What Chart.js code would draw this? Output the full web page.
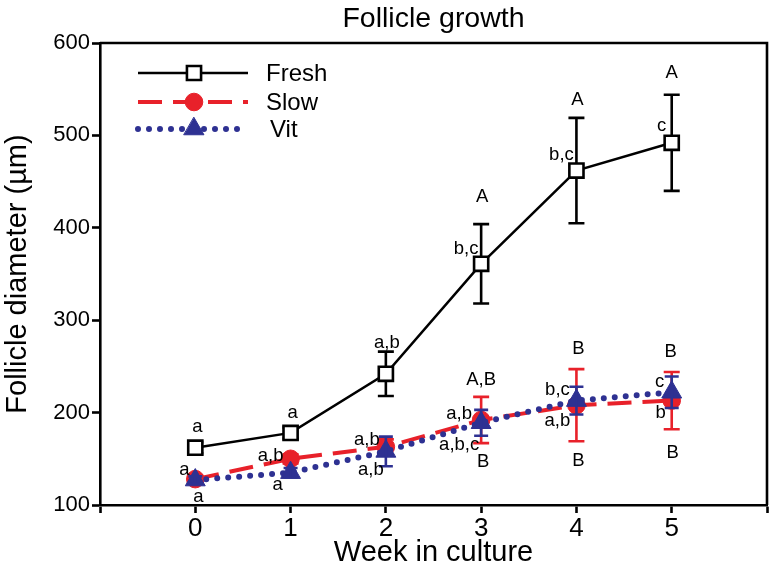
<!DOCTYPE html>
<html><head><meta charset="utf-8">
<script src="https://cdn.jsdelivr.net/npm/chart.js@4"></script>
<style>html,body{margin:0;padding:0;background:#fff}#wrap{width:771px;height:572px;position:relative}</style>
</head><body><div id="wrap"><canvas id="c"></canvas></div>
<script>
// ---- data ----
const weeks = [0, 1, 2, 3, 4, 5];
const xTickLabels = ['0', '1', '2', '3', '4', '5'];
const yTicks = [100, 200, 300, 400, 500, 600];
const seriesNames = ['Fresh', 'Slow', 'Vit'];
const freshMean = [162, 178, 242, 361, 462, 492];
const freshErr = [6, 6, 24, 43, 57, 52];
const slowMean = [128, 150, 163, 192, 208, 213];
const slowErr = [4, 5, 8, 25, 39, 31];
const vitMean = [127, 135, 158, 189, 213, 222];
const vitErr = [4, 5, 16, 14, 15, 17];
const freshLetters = ['a', 'a', 'a,b', 'b,c', 'b,c', 'c'];
const freshGroups = ['', '', '', 'A', 'A', 'A'];
const slowLetters = ['a', 'a,b', 'a,b', 'a,b', 'a,b', 'b'];
const slowGroups = ['', '', '', 'A,B', 'B', 'B'];
const vitLetters = ['a', 'a', 'a,b', 'a,b,c', 'b,c', 'c'];
const vitGroups = ['', '', '', 'B', 'B', 'B'];

// ---- styles / layout ----
const FONT = "'Liberation Sans', Arial, Helvetica, sans-serif";
const RED = '#e8212a';
const BLUE = '#2e3192';
const labelOffsets = {
  freshLetters: [[2,-21],[2,-20],[1,-31],[-15,-15],[-15,-16],[-10,-17]],
  freshGroups:  [null,null,null,[1,-67],[1,-71],[0,-70]],
  slowLetters:  [[-11,-9],[-20,-3],[-19,-7],[-22,-6],[-19,16],[-11,12]],
  slowGroups:   [null,null,null,[0,-40],[2,-56],[-1,-49]],
  vitLetters:   [[3,17],[-13,12],[-15,18],[-22,22],[-19,-11],[-12,-10]],
  vitGroups:    [null,null,null,[2,39],[2,60],[1,61]]
};

const pts = (m) => weeks.map((w, i) => ({x: w, y: m[i]}));

const datasets = [
  {label: seriesNames[0], data: pts(freshMean), borderColor: '#000', borderWidth: 2.5,
   pointStyle: 'rect', pointRadius: 10, pointHoverRadius: 10, pointBackgroundColor: '#fff',
   pointBorderColor: '#000', pointBorderWidth: 2.6, order: 0, tension: 0},
  {label: seriesNames[1], data: pts(slowMean), borderColor: RED, borderWidth: 4, borderDash: [24, 11],
   pointStyle: 'circle', pointRadius: 8.8, pointHoverRadius: 8.8, pointBackgroundColor: RED,
   pointBorderColor: RED, pointBorderWidth: 1, order: 2, tension: 0},
  {label: seriesNames[2], data: pts(vitMean), borderColor: BLUE, borderWidth: 6, borderDash: [0, 11],
   borderCapStyle: 'round', pointStyle: 'triangle', pointRadius: 11.5, pointHoverRadius: 11.5,
   pointBackgroundColor: BLUE, pointBorderColor: BLUE, pointBorderWidth: 1, order: 1, tension: 0}
];

function drawBars(chart, mean, err, color, cap) {
  const {ctx, scales: {x, y}} = chart;
  ctx.save();
  ctx.strokeStyle = color; ctx.lineWidth = 2.6; ctx.lineCap = 'butt'; ctx.setLineDash([]);
  weeks.forEach((w, i) => {
    const px = x.getPixelForValue(w);
    const t = y.getPixelForValue(mean[i] + err[i]);
    const b = y.getPixelForValue(mean[i] - err[i]);
    ctx.beginPath();
    ctx.moveTo(px, t); ctx.lineTo(px, b);
    ctx.moveTo(px - cap, t); ctx.lineTo(px + cap, t);
    ctx.moveTo(px - cap, b); ctx.lineTo(px + cap, b);
    ctx.stroke();
  });
  ctx.restore();
}

const errorBars = {
  id: 'errorBars',
  beforeDatasetsDraw(chart) {
    drawBars(chart, freshMean, freshErr, '#000', 8);
    drawBars(chart, slowMean, slowErr, RED, 8);
  },
  afterDatasetsDraw(chart) {
    drawBars(chart, vitMean, vitErr, BLUE, 7);
  }
};

const letters = {
  id: 'letters',
  afterDatasetsDraw(chart) {
    const {ctx, scales: {x, y}} = chart;
    ctx.save();
    ctx.fillStyle = '#000';
    ctx.font = '18.5px ' + FONT;
    ctx.textAlign = 'center';
    ctx.textBaseline = 'middle';
    const groups = [
      [freshLetters, freshMean, labelOffsets.freshLetters],
      [freshGroups, freshMean, labelOffsets.freshGroups],
      [slowLetters, slowMean, labelOffsets.slowLetters],
      [slowGroups, slowMean, labelOffsets.slowGroups],
      [vitLetters, vitMean, labelOffsets.vitLetters],
      [vitGroups, vitMean, labelOffsets.vitGroups]
    ];
    groups.forEach(([txt, mean, off]) => {
      weeks.forEach((w, i) => {
        if (!txt[i] || !off[i]) return;
        ctx.fillText(txt[i], x.getPixelForValue(w) + off[i][0], y.getPixelForValue(mean[i]) + off[i][1]);
      });
    });
    ctx.restore();
  }
};

const frameAndLegend = {
  id: 'frameAndLegend',
  afterDraw(chart) {
    const {ctx, chartArea: a} = chart;
    ctx.save();
    ctx.strokeStyle = '#000'; ctx.lineWidth = 2.6; ctx.setLineDash([]);
    ctx.beginPath();
    ctx.moveTo(a.left, a.top); ctx.lineTo(a.right, a.top); ctx.lineTo(a.right, a.bottom);
    ctx.stroke();
    // legend
    const rows = [73, 102, 129];
    const x0 = 138, x1 = 248, mx = 194, tx = 266;
    chart.data.datasets.forEach((ds, i) => {
      const yy = rows[i];
      ctx.save();
      ctx.strokeStyle = ds.borderColor; ctx.lineWidth = ds.borderWidth;
      ctx.lineCap = ds.borderCapStyle || 'butt';
      ctx.setLineDash(ds.borderDash || []);
      ctx.beginPath(); ctx.moveTo(x0, yy); ctx.lineTo(x1, yy); ctx.stroke();
      ctx.setLineDash([]);
      ctx.fillStyle = ds.pointBackgroundColor; ctx.strokeStyle = ds.pointBorderColor;
      ctx.lineWidth = ds.pointBorderWidth;
      Chart.helpers.drawPoint(ctx, {pointStyle: ds.pointStyle, radius: ds.pointRadius, rotation: 0, borderWidth: ds.pointBorderWidth}, mx, yy);
      ctx.restore();
      ctx.fillStyle = '#000'; ctx.font = '24px ' + FONT;
      ctx.textAlign = 'left'; ctx.textBaseline = 'middle';
      ctx.fillText(ds.label, tx + (i === 2 ? 4 : 0), yy + 1);
    });
    ctx.restore();
  }
};

new Chart(document.getElementById('c'), {
  type: 'line',
  data: {datasets},
  plugins: [errorBars, letters, frameAndLegend],
  options: {
    responsive: true, maintainAspectRatio: false, animation: false, devicePixelRatio: 1,
    layout: {autoPadding: false, padding: {left: 0, right: 4, top: 0, bottom: 0}},
    plugins: {
      legend: {display: false}, tooltip: {enabled: false},
      title: {display: true, fullSize: false, text: 'Follicle growth', color: '#000',
        font: {family: FONT, size: 28.5, weight: 'normal'}, padding: {top: 2, bottom: 6.8}}
    },
    scales: {
      x: {
        type: 'linear', min: -1, max: 6,
        afterBuildTicks: (s) => { s.ticks = [-1].concat(weeks, [6]).map(v => ({value: v})); },
        afterFit: (s) => { s.height = 67; },
        grid: {drawOnChartArea: false, drawTicks: true, tickLength: 8, tickWidth: 2.6, tickColor: '#000'},
        border: {display: true, color: '#000', width: 2.6},
        ticks: {color: '#000', font: {family: FONT, size: 26}, padding: 0, maxRotation: 0, autoSkip: false,
          callback: (v) => { const i = weeks.indexOf(v); return i >= 0 ? xTickLabels[i] : ''; }},
        title: {display: true, text: 'Week in culture', color: '#000',
          font: {family: FONT, size: 29}, padding: {top: 0, bottom: 2}}
      },
      y: {
        min: 100, max: 600,
        afterBuildTicks: (s) => { s.ticks = yTicks.map(v => ({value: v})); },
        afterFit: (s) => { s.width = 100; },
        grid: {drawOnChartArea: false, drawTicks: true, tickLength: 8, tickWidth: 2.6, tickColor: '#000'},
        border: {display: true, color: '#000', width: 2.6},
        ticks: {color: '#000', font: {family: FONT, size: 22}, padding: 2},
        title: {display: true, text: 'Follicle diameter (\u00b5m)', color: '#000',
          font: {family: FONT, size: 29}, padding: {top: 1, bottom: 0}}
      }
    }
  }
});
</script></body></html>
